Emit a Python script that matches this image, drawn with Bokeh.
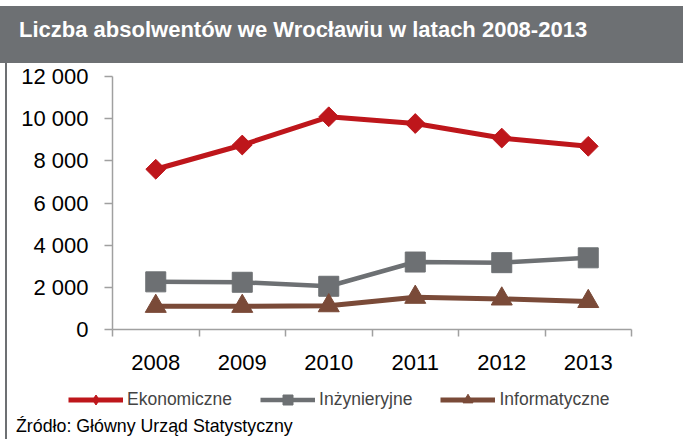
from math import pi

from bokeh.plotting import figure
from bokeh.models import (Range1d, LinearAxis, FixedTicker, Legend, LegendItem,
                          Div, Spacer, BasicTickFormatter)
from bokeh.layouts import column, row
from bokeh.embed import file_html
from bokeh.resources import INLINE

# ---------------- data ----------------
title_text = "Liczba absolwentów we Wrocławiu w latach 2008-2013"
source_text = "Źródło: Główny Urząd Statystyczny"
years = [2008, 2009, 2010, 2011, 2012, 2013]
series_names = ["Ekonomiczne", "Inżynieryjne", "Informatyczne"]
ekonomiczne = [7600, 8750, 10090, 9770, 9080, 8690]
inzynieryjne = [2260, 2240, 2050, 3200, 3170, 3400]
informatyczne = [1100, 1100, 1130, 1530, 1450, 1330]
y_ticks = [0, 2000, 4000, 6000, 8000, 10000, 12000]
y_tick_labels = ["0", "2 000", "4 000", "6 000", "8 000", "10 000", "12 000"]

# ---------------- style ----------------
FONT = "Liberation Sans"
RED = "#BE161B"
GRAY = "#6D7073"
BROWN = "#7A4A38"
AXIS = "#A0A0A0"
series_styles = [
    dict(color=RED, line_width=5, marker="square", angle=pi / 4, size=14,
         legend_marker="diamond"),
    dict(color=GRAY, line_width=4.5, marker="square", angle=0, size=20,
         legend_marker="square"),
    dict(color=BROWN, line_width=5, marker="triangle", angle=0, size=21,
         legend_marker="triangle"),
]
series_values = [ekonomiczne, inzynieryjne, informatyczne]

p = figure(width=676, height=322,
           x_range=Range1d(years[0] - 0.5, years[-1] + 0.5),
           y_range=Range1d(y_ticks[0], y_ticks[-1]),
           output_backend="svg", toolbar_location=None,
           x_axis_location=None, y_axis_location=None,
           min_border_left=105, min_border_right=52,
           min_border_top=13, min_border_bottom=56)
p.outline_line_color = None
p.grid.visible = False

yaxis = LinearAxis(ticker=FixedTicker(ticks=y_ticks),
                   major_label_overrides=dict(zip(y_ticks, y_tick_labels)),
                   axis_line_color=AXIS, axis_line_width=1.5,
                   major_tick_line_color=AXIS, major_tick_line_width=1.5,
                   major_tick_in=0, major_tick_out=8,
                   minor_tick_line_color=None,
                   major_label_standoff=16,
                   major_label_text_font=FONT,
                   major_label_text_font_size="22px",
                   major_label_text_color="black")
p.add_layout(yaxis, "left")

# category boundaries (tick marks between years, as in the original)
boundaries = [y - 0.5 for y in years] + [years[-1] + 0.5]
tick_axis = LinearAxis(ticker=FixedTicker(ticks=boundaries),
                       axis_line_color=AXIS, axis_line_width=1.5,
                       major_tick_line_color=AXIS, major_tick_line_width=1.5,
                       major_tick_in=0, major_tick_out=7,
                       minor_tick_line_color=None,
                       major_label_text_font_size="0px",
                       major_label_text_color=None,
                       major_label_standoff=0)
p.add_layout(tick_axis, "below")

xaxis = LinearAxis(ticker=FixedTicker(ticks=years),
                   formatter=BasicTickFormatter(use_scientific=False),
                   axis_line_color=None, major_tick_line_color=None,
                   minor_tick_line_color=None,
                   major_label_standoff=12,
                   major_label_text_font=FONT,
                   major_label_text_font_size="22px",
                   major_label_text_color="black")
p.add_layout(xaxis, "below")

for vals, st in zip(series_values, series_styles):
    p.line(years, vals, line_color=st["color"], line_width=st["line_width"])
    p.scatter(years, vals, marker=st["marker"], angle=st["angle"],
              size=st["size"], color=st["color"])

# legend drawn in its own strip below the chart (series kept outside its view)
lf = figure(width=676, height=28, output_backend="svg", toolbar_location=None,
            x_axis_location=None, y_axis_location=None,
            x_range=Range1d(0, 1), y_range=Range1d(0, 1),
            min_border=0, min_border_left=0, min_border_right=0,
            min_border_top=0, min_border_bottom=0)
lf.outline_line_color = None
lf.grid.visible = False
items = []
for name, vals, st in zip(series_names, series_values, series_styles):
    lr = lf.line(years, vals, line_color=st["color"],
                 line_width=st["line_width"])
    sr = lf.scatter(years, vals, marker=st["legend_marker"],
                    size=st["size"], color=st["color"])
    items.append(LegendItem(label=name, renderers=[lr, sr]))
legend = Legend(items=items, orientation="horizontal", location=(61, 1),
                padding=0, margin=0, border_line_color=None,
                background_fill_alpha=0,
                label_text_font=FONT, label_text_font_size="17.5px",
                glyph_width=55, glyph_height=25, label_standoff=4,
                spacing=28)
lf.add_layout(legend, "center")

title_div = Div(text=title_text, width=683, height=57, margin=0,
                styles={"background-color": GRAY, "color": "white",
                        "font-family": FONT, "font-weight": "bold",
                        "font-size": "22px", "line-height": "48px",
                        "padding-left": "19px", "box-sizing": "border-box",
                        "white-space": "nowrap"})
border_div = Div(text="", width=2, height=376, margin=0,
                 styles={"background-color": GRAY})
source_div = Div(text=source_text, width=676, height=26, margin=0,
                 styles={"color": "black", "font-family": FONT,
                         "font-size": "17.8px", "line-height": "26px",
                         "padding-left": "9px", "box-sizing": "border-box",
                         "white-space": "nowrap"})

layout = column(Spacer(width=683, height=6, margin=0),
                title_div,
                row(Spacer(width=5, height=376, margin=0), border_div,
                    column(p, row(lf, margin=0), source_div,
                           spacing=0, margin=0),
                    spacing=0, margin=0),
                spacing=0, margin=0)

open("out.html", "w").write(file_html(layout, INLINE))
